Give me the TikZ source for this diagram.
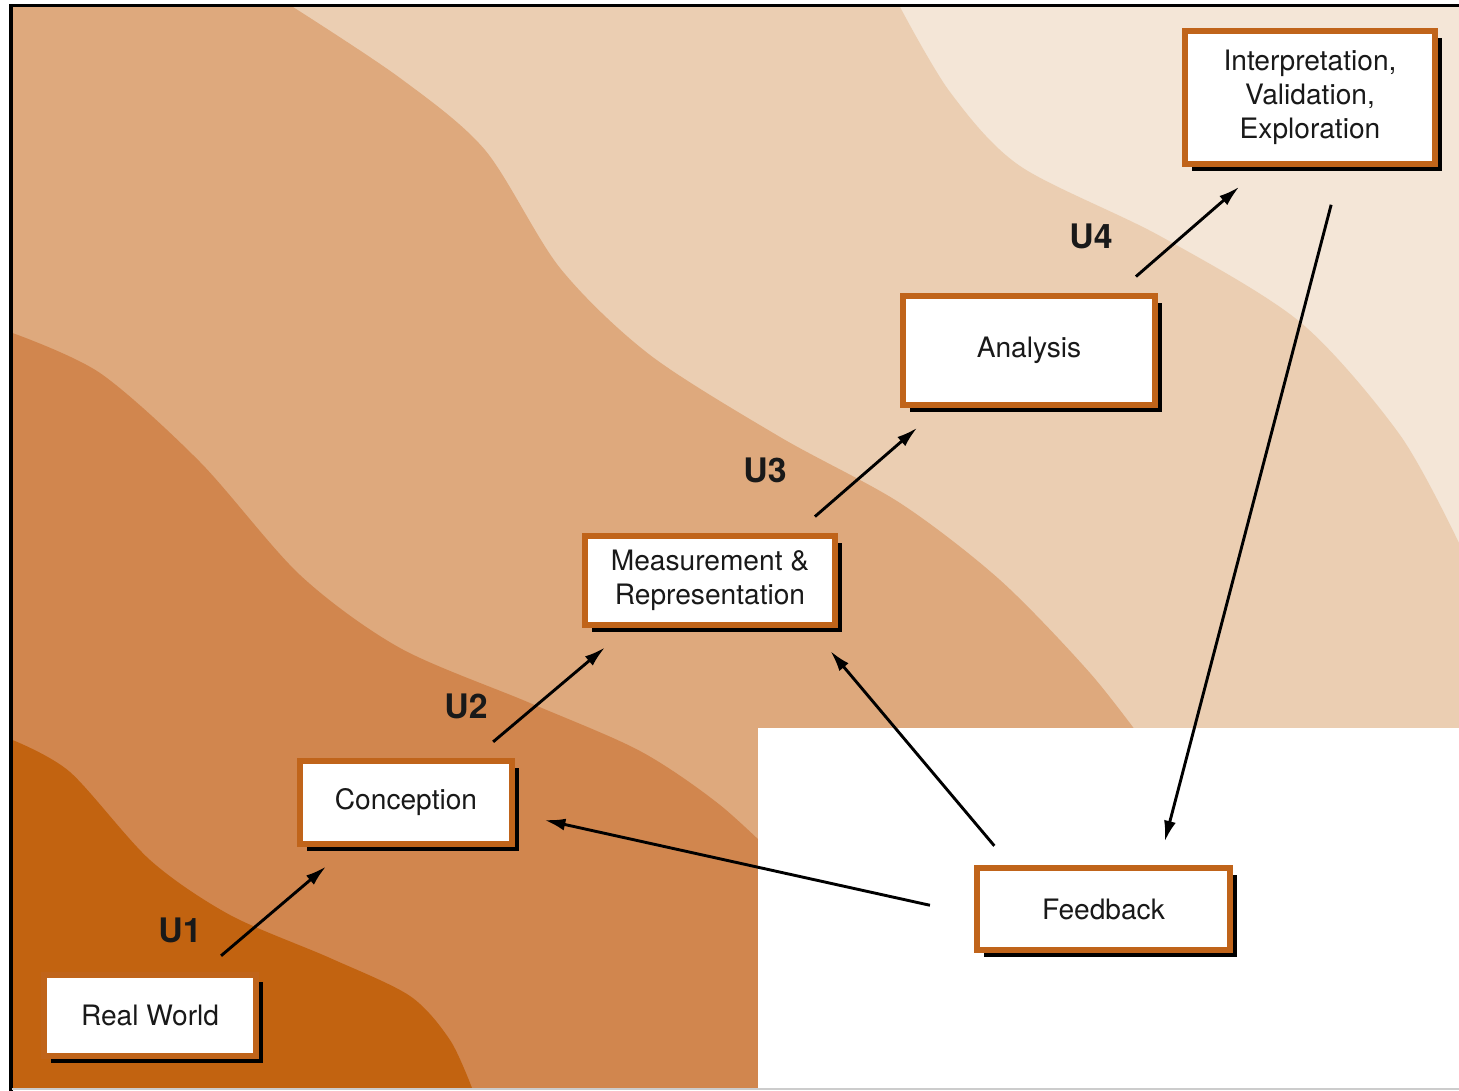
\documentclass[tikz,border=0pt]{standalone}
\usepackage{fontspec}
\setmainfont{TeX Gyre Heros}
\usepackage{tikz}
\usetikzlibrary{arrows.meta}
\usetikzlibrary{shadows}
\definecolor{bandA}{HTML}{C26310}
\definecolor{bandB}{HTML}{D1864E}
\definecolor{bandC}{HTML}{DEA97D}
\definecolor{bandD}{HTML}{EBCEB2}
\definecolor{bandE}{HTML}{F4E6D7}
\definecolor{rim}{HTML}{C0641A}
\tikzset{stage/.style = {draw = rim, fill = white, line width = 0.06cm, inner sep = 0,
    align = center, text = black!90, font = \fontsize{8}{9.6}\selectfont,
    drop shadow = {shadow xshift = 0.07cm, shadow yshift = -0.07cm, fill = black, opacity = 1}}}
\tikzset{ulabel/.style = {text = black!90, font = \fontsize{9.6}{11}\selectfont\bfseries}}
\tikzset{flow/.style = {-{Latex[length = 0.21cm, width = 0.12cm]}, line width = 0.029cm,
    shorten < = 0.25cm, shorten > = 0.3cm}}

\begin{document}
\begin{tikzpicture}[x=0.01cm, y=-0.01cm]
      \useasboundingbox (0, 0) rectangle (1459, 1091);

      % background bands
      \fill[bandE] (12.5, 7) rectangle (1459, 1088);
      \fill[bandD] (12.5, 7) -- plot[smooth] coordinates {(900, 7) (950, 92) (1020, 166)
        (1160, 236) (1300, 322) (1400, 435) (1459, 543)} -- (1459, 1088) -- (12.5, 1088) -- cycle;
      \fill[bandC] (12.5, 7) -- plot[smooth] coordinates {(293, 7) (400, 78) (485, 150)
        (560, 268) (650, 355) (780, 437) (900, 503) (1000, 580) (1090, 673) (1150, 750)}
        -- (1150, 1088) -- (12.5, 1088) -- cycle;
      \fill[bandB] plot[smooth] coordinates {(12.5, 333) (100, 373) (200, 462) (300, 575)
        (400, 648) (530, 703) (640, 751) (720, 805) (790, 870)} -- (790, 1088) -- (12.5, 1088) -- cycle;
      \fill[bandA] plot[smooth] coordinates {(12.5, 740) (70, 772) (150, 860) (230, 915)
        (330, 958) (410, 996) (450, 1040) (472, 1088)} -- (12.5, 1088) -- cycle;
      \fill[white] (758, 728) rectangle (1459, 1091);

      % frame
      \draw[line width = 0.03cm] (11, 1091) -- (11, 5.5) -- (1459, 5.5);
      \draw[black!20, line width = 0.02cm] (12, 1089.5) -- (1459, 1089.5);

      \node [stage, minimum width = 2.12cm, minimum height = 0.81cm] (rw) at (150, 1015.5) {Real World};
      \node [stage, minimum width = 2.12cm, minimum height = 0.83cm] (con) at (406, 802.5) {Conception};
      \node [stage, minimum width = 2.50cm, minimum height = 0.89cm] (mea) at (710, 580.5) {Measurement \&\\Representation};
      \node [stage, minimum width = 2.52cm, minimum height = 1.09cm] (ana) at (1029, 350.5) {Analysis};
      \node [stage, minimum width = 2.50cm, minimum height = 1.33cm] (int) at (1310, 97.5) {Interpretation,\\Validation,\\Exploration};
      \node [stage, minimum width = 2.53cm, minimum height = 0.82cm] (fb) at (1103.5, 909) {Feedback};

      \node [ulabel] (u1) at (180, 930) {U1};
      \node [ulabel] (u2) at (466, 706) {U2};
      \node [ulabel] (u3) at (765, 470) {U3};
      \node [ulabel] (u4) at (1091, 236) {U4};

      \draw [flow] ([xshift = 0.52cm]rw.north) -- ([xshift = -0.57cm]con.south);
      \draw [flow] ([xshift = 0.68cm]con.north) -- ([xshift = -0.82cm]mea.south);
      \draw [flow] ([xshift = 0.86cm]mea.north) -- ([xshift = -0.89cm]ana.south);
      \draw [flow] ([xshift = 0.88cm]ana.north) -- ([xshift = -0.48cm]int.south);
      \draw [flow, shorten < = 0.39cm, shorten > = 0.24cm] ([xshift = 0.31cm]int.south) -- ([xshift = 0.55cm]fb.north);
      \draw [flow] ([xshift = -0.93cm]fb.north) -- ([xshift = 1.01cm]mea.south);
      \draw [flow, shorten < = 0.45cm] ([yshift = -0.06cm]fb.west) -- ([yshift = -0.11cm]con.east);
    \end{tikzpicture}
\end{document}
